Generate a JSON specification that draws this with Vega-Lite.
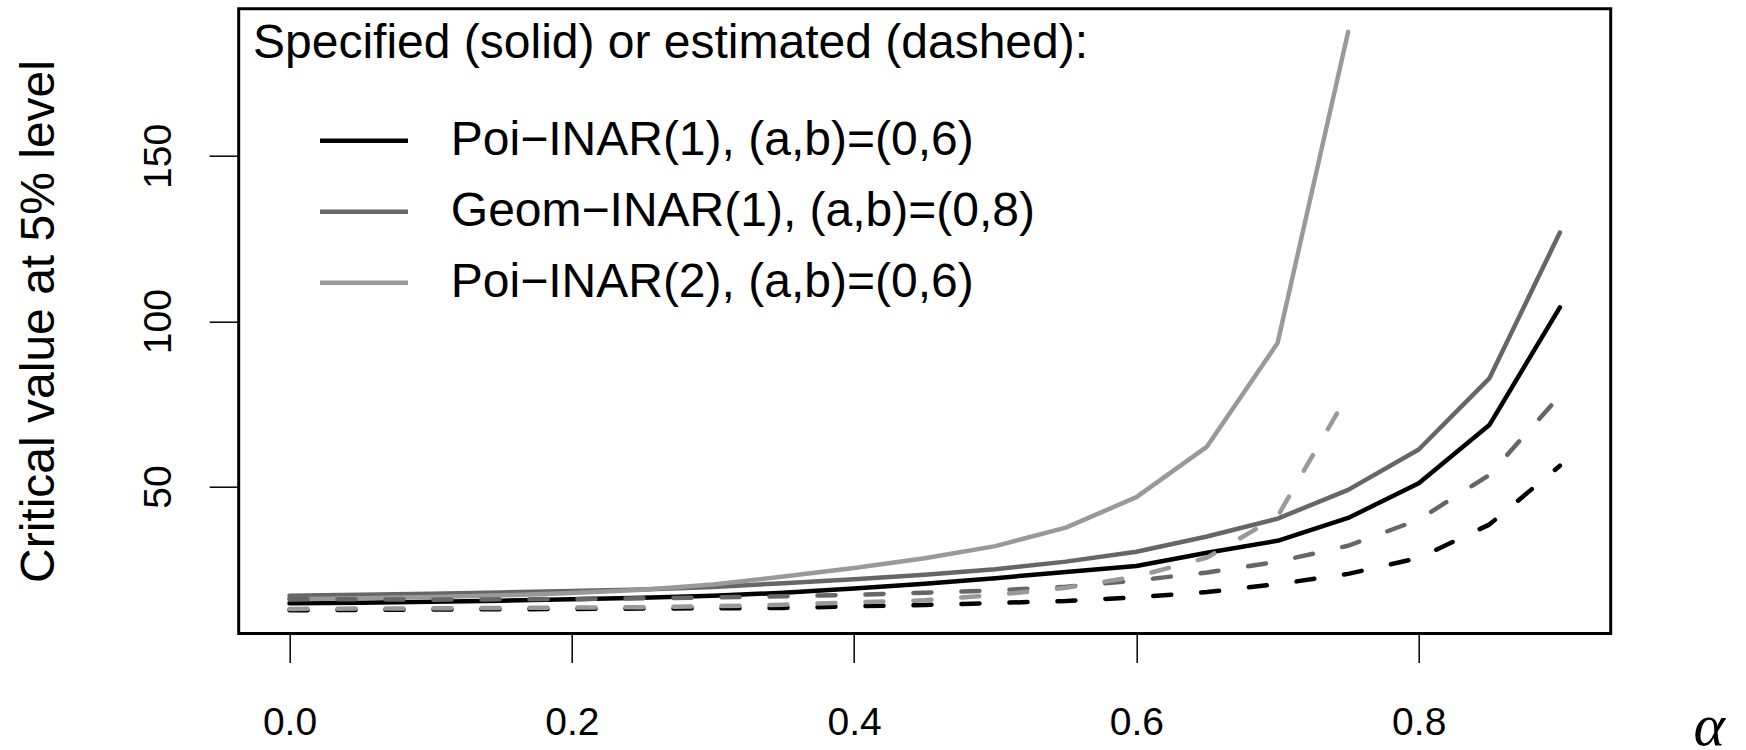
{
  "$schema": "https://vega.github.io/schema/vega-lite/v6.json",
  "width": 1372,
  "height": 624.7,
  "autosize": {"type": "none"},
  "padding": {"left": 238.7, "top": 8.7, "right": 135.3, "bottom": 116.6},
  "background": "white",
  "config": {
    "view": {"stroke": "black", "strokeWidth": 3},
    "font": "Liberation Sans"
  },
  "data": {
    "values": [
      {"model": "Poi−INAR(1), (a,b)=(0,6)", "type": "specified", "alpha": 0, "cv": 14.7},
      {"model": "Poi−INAR(1), (a,b)=(0,6)", "type": "specified", "alpha": 0.05, "cv": 14.9},
      {"model": "Poi−INAR(1), (a,b)=(0,6)", "type": "specified", "alpha": 0.1, "cv": 15.2},
      {"model": "Poi−INAR(1), (a,b)=(0,6)", "type": "specified", "alpha": 0.15, "cv": 15.5},
      {"model": "Poi−INAR(1), (a,b)=(0,6)", "type": "specified", "alpha": 0.2, "cv": 15.9},
      {"model": "Poi−INAR(1), (a,b)=(0,6)", "type": "specified", "alpha": 0.25, "cv": 16.4},
      {"model": "Poi−INAR(1), (a,b)=(0,6)", "type": "specified", "alpha": 0.3, "cv": 17.0},
      {"model": "Poi−INAR(1), (a,b)=(0,6)", "type": "specified", "alpha": 0.35, "cv": 17.9},
      {"model": "Poi−INAR(1), (a,b)=(0,6)", "type": "specified", "alpha": 0.4, "cv": 19.2},
      {"model": "Poi−INAR(1), (a,b)=(0,6)", "type": "specified", "alpha": 0.45, "cv": 20.6},
      {"model": "Poi−INAR(1), (a,b)=(0,6)", "type": "specified", "alpha": 0.5, "cv": 22.3},
      {"model": "Poi−INAR(1), (a,b)=(0,6)", "type": "specified", "alpha": 0.55, "cv": 24.2},
      {"model": "Poi−INAR(1), (a,b)=(0,6)", "type": "specified", "alpha": 0.6, "cv": 26.0},
      {"model": "Poi−INAR(1), (a,b)=(0,6)", "type": "specified", "alpha": 0.65, "cv": 30.0},
      {"model": "Poi−INAR(1), (a,b)=(0,6)", "type": "specified", "alpha": 0.7, "cv": 33.6},
      {"model": "Poi−INAR(1), (a,b)=(0,6)", "type": "specified", "alpha": 0.75, "cv": 40.5},
      {"model": "Poi−INAR(1), (a,b)=(0,6)", "type": "specified", "alpha": 0.8, "cv": 51.0},
      {"model": "Poi−INAR(1), (a,b)=(0,6)", "type": "specified", "alpha": 0.85, "cv": 68.6},
      {"model": "Poi−INAR(1), (a,b)=(0,6)", "type": "specified", "alpha": 0.9, "cv": 104.2},
      {"model": "Geom−INAR(1), (a,b)=(0,8)", "type": "specified", "alpha": 0, "cv": 17.0},
      {"model": "Geom−INAR(1), (a,b)=(0,8)", "type": "specified", "alpha": 0.05, "cv": 17.3},
      {"model": "Geom−INAR(1), (a,b)=(0,8)", "type": "specified", "alpha": 0.1, "cv": 17.6},
      {"model": "Geom−INAR(1), (a,b)=(0,8)", "type": "specified", "alpha": 0.15, "cv": 18.0},
      {"model": "Geom−INAR(1), (a,b)=(0,8)", "type": "specified", "alpha": 0.2, "cv": 18.4},
      {"model": "Geom−INAR(1), (a,b)=(0,8)", "type": "specified", "alpha": 0.25, "cv": 18.9},
      {"model": "Geom−INAR(1), (a,b)=(0,8)", "type": "specified", "alpha": 0.3, "cv": 19.6},
      {"model": "Geom−INAR(1), (a,b)=(0,8)", "type": "specified", "alpha": 0.35, "cv": 20.8},
      {"model": "Geom−INAR(1), (a,b)=(0,8)", "type": "specified", "alpha": 0.4, "cv": 22.0},
      {"model": "Geom−INAR(1), (a,b)=(0,8)", "type": "specified", "alpha": 0.45, "cv": 23.3},
      {"model": "Geom−INAR(1), (a,b)=(0,8)", "type": "specified", "alpha": 0.5, "cv": 25.0},
      {"model": "Geom−INAR(1), (a,b)=(0,8)", "type": "specified", "alpha": 0.55, "cv": 27.3},
      {"model": "Geom−INAR(1), (a,b)=(0,8)", "type": "specified", "alpha": 0.6, "cv": 30.3},
      {"model": "Geom−INAR(1), (a,b)=(0,8)", "type": "specified", "alpha": 0.65, "cv": 34.9},
      {"model": "Geom−INAR(1), (a,b)=(0,8)", "type": "specified", "alpha": 0.7, "cv": 40.3},
      {"model": "Geom−INAR(1), (a,b)=(0,8)", "type": "specified", "alpha": 0.75, "cv": 49.0},
      {"model": "Geom−INAR(1), (a,b)=(0,8)", "type": "specified", "alpha": 0.8, "cv": 61.2},
      {"model": "Geom−INAR(1), (a,b)=(0,8)", "type": "specified", "alpha": 0.85, "cv": 82.7},
      {"model": "Geom−INAR(1), (a,b)=(0,8)", "type": "specified", "alpha": 0.9, "cv": 126.8},
      {"model": "Poi−INAR(2), (a,b)=(0,6)", "type": "specified", "alpha": 0, "cv": 15.9},
      {"model": "Poi−INAR(2), (a,b)=(0,6)", "type": "specified", "alpha": 0.05, "cv": 16.2},
      {"model": "Poi−INAR(2), (a,b)=(0,6)", "type": "specified", "alpha": 0.1, "cv": 16.6},
      {"model": "Poi−INAR(2), (a,b)=(0,6)", "type": "specified", "alpha": 0.15, "cv": 17.1},
      {"model": "Poi−INAR(2), (a,b)=(0,6)", "type": "specified", "alpha": 0.2, "cv": 17.8},
      {"model": "Poi−INAR(2), (a,b)=(0,6)", "type": "specified", "alpha": 0.25, "cv": 18.8},
      {"model": "Poi−INAR(2), (a,b)=(0,6)", "type": "specified", "alpha": 0.3, "cv": 20.4},
      {"model": "Poi−INAR(2), (a,b)=(0,6)", "type": "specified", "alpha": 0.35, "cv": 22.8},
      {"model": "Poi−INAR(2), (a,b)=(0,6)", "type": "specified", "alpha": 0.4, "cv": 25.4},
      {"model": "Poi−INAR(2), (a,b)=(0,6)", "type": "specified", "alpha": 0.45, "cv": 28.3},
      {"model": "Poi−INAR(2), (a,b)=(0,6)", "type": "specified", "alpha": 0.5, "cv": 32.0},
      {"model": "Poi−INAR(2), (a,b)=(0,6)", "type": "specified", "alpha": 0.55, "cv": 37.6},
      {"model": "Poi−INAR(2), (a,b)=(0,6)", "type": "specified", "alpha": 0.6, "cv": 46.8},
      {"model": "Poi−INAR(2), (a,b)=(0,6)", "type": "specified", "alpha": 0.65, "cv": 62.1},
      {"model": "Poi−INAR(2), (a,b)=(0,6)", "type": "specified", "alpha": 0.7, "cv": 93.4},
      {"model": "Poi−INAR(2), (a,b)=(0,6)", "type": "specified", "alpha": 0.75, "cv": 187.5},
      {"model": "Poi−INAR(1), (a,b)=(0,6)", "type": "estimated", "alpha": 0, "cv": 12.6},
      {"model": "Poi−INAR(1), (a,b)=(0,6)", "type": "estimated", "alpha": 0.05, "cv": 12.7},
      {"model": "Poi−INAR(1), (a,b)=(0,6)", "type": "estimated", "alpha": 0.1, "cv": 12.8},
      {"model": "Poi−INAR(1), (a,b)=(0,6)", "type": "estimated", "alpha": 0.15, "cv": 12.9},
      {"model": "Poi−INAR(1), (a,b)=(0,6)", "type": "estimated", "alpha": 0.2, "cv": 13.0},
      {"model": "Poi−INAR(1), (a,b)=(0,6)", "type": "estimated", "alpha": 0.25, "cv": 13.1},
      {"model": "Poi−INAR(1), (a,b)=(0,6)", "type": "estimated", "alpha": 0.3, "cv": 13.2},
      {"model": "Poi−INAR(1), (a,b)=(0,6)", "type": "estimated", "alpha": 0.35, "cv": 13.3},
      {"model": "Poi−INAR(1), (a,b)=(0,6)", "type": "estimated", "alpha": 0.4, "cv": 13.8},
      {"model": "Poi−INAR(1), (a,b)=(0,6)", "type": "estimated", "alpha": 0.45, "cv": 14.2},
      {"model": "Poi−INAR(1), (a,b)=(0,6)", "type": "estimated", "alpha": 0.5, "cv": 14.8},
      {"model": "Poi−INAR(1), (a,b)=(0,6)", "type": "estimated", "alpha": 0.55, "cv": 15.4},
      {"model": "Poi−INAR(1), (a,b)=(0,6)", "type": "estimated", "alpha": 0.6, "cv": 16.5},
      {"model": "Poi−INAR(1), (a,b)=(0,6)", "type": "estimated", "alpha": 0.65, "cv": 18.1},
      {"model": "Poi−INAR(1), (a,b)=(0,6)", "type": "estimated", "alpha": 0.7, "cv": 20.5},
      {"model": "Poi−INAR(1), (a,b)=(0,6)", "type": "estimated", "alpha": 0.75, "cv": 23.6},
      {"model": "Poi−INAR(1), (a,b)=(0,6)", "type": "estimated", "alpha": 0.8, "cv": 28.4},
      {"model": "Poi−INAR(1), (a,b)=(0,6)", "type": "estimated", "alpha": 0.85, "cv": 38.5},
      {"model": "Poi−INAR(1), (a,b)=(0,6)", "type": "estimated", "alpha": 0.9, "cv": 56.3},
      {"model": "Geom−INAR(1), (a,b)=(0,8)", "type": "estimated", "alpha": 0, "cv": 16.0},
      {"model": "Geom−INAR(1), (a,b)=(0,8)", "type": "estimated", "alpha": 0.05, "cv": 15.9},
      {"model": "Geom−INAR(1), (a,b)=(0,8)", "type": "estimated", "alpha": 0.1, "cv": 15.8},
      {"model": "Geom−INAR(1), (a,b)=(0,8)", "type": "estimated", "alpha": 0.15, "cv": 15.9},
      {"model": "Geom−INAR(1), (a,b)=(0,8)", "type": "estimated", "alpha": 0.2, "cv": 16.0},
      {"model": "Geom−INAR(1), (a,b)=(0,8)", "type": "estimated", "alpha": 0.25, "cv": 16.2},
      {"model": "Geom−INAR(1), (a,b)=(0,8)", "type": "estimated", "alpha": 0.3, "cv": 16.5},
      {"model": "Geom−INAR(1), (a,b)=(0,8)", "type": "estimated", "alpha": 0.35, "cv": 16.8},
      {"model": "Geom−INAR(1), (a,b)=(0,8)", "type": "estimated", "alpha": 0.4, "cv": 17.3},
      {"model": "Geom−INAR(1), (a,b)=(0,8)", "type": "estimated", "alpha": 0.45, "cv": 17.9},
      {"model": "Geom−INAR(1), (a,b)=(0,8)", "type": "estimated", "alpha": 0.5, "cv": 18.6},
      {"model": "Geom−INAR(1), (a,b)=(0,8)", "type": "estimated", "alpha": 0.55, "cv": 19.7},
      {"model": "Geom−INAR(1), (a,b)=(0,8)", "type": "estimated", "alpha": 0.6, "cv": 21.6},
      {"model": "Geom−INAR(1), (a,b)=(0,8)", "type": "estimated", "alpha": 0.65, "cv": 24.0},
      {"model": "Geom−INAR(1), (a,b)=(0,8)", "type": "estimated", "alpha": 0.7, "cv": 27.3},
      {"model": "Geom−INAR(1), (a,b)=(0,8)", "type": "estimated", "alpha": 0.75, "cv": 32.1},
      {"model": "Geom−INAR(1), (a,b)=(0,8)", "type": "estimated", "alpha": 0.8, "cv": 40.0},
      {"model": "Geom−INAR(1), (a,b)=(0,8)", "type": "estimated", "alpha": 0.85, "cv": 53.5},
      {"model": "Geom−INAR(1), (a,b)=(0,8)", "type": "estimated", "alpha": 0.9, "cv": 77.5},
      {"model": "Poi−INAR(2), (a,b)=(0,6)", "type": "estimated", "alpha": 0, "cv": 13.0},
      {"model": "Poi−INAR(2), (a,b)=(0,6)", "type": "estimated", "alpha": 0.05, "cv": 13.1},
      {"model": "Poi−INAR(2), (a,b)=(0,6)", "type": "estimated", "alpha": 0.1, "cv": 13.2},
      {"model": "Poi−INAR(2), (a,b)=(0,6)", "type": "estimated", "alpha": 0.15, "cv": 13.3},
      {"model": "Poi−INAR(2), (a,b)=(0,6)", "type": "estimated", "alpha": 0.2, "cv": 13.4},
      {"model": "Poi−INAR(2), (a,b)=(0,6)", "type": "estimated", "alpha": 0.25, "cv": 13.5},
      {"model": "Poi−INAR(2), (a,b)=(0,6)", "type": "estimated", "alpha": 0.3, "cv": 13.8},
      {"model": "Poi−INAR(2), (a,b)=(0,6)", "type": "estimated", "alpha": 0.35, "cv": 14.3},
      {"model": "Poi−INAR(2), (a,b)=(0,6)", "type": "estimated", "alpha": 0.4, "cv": 15.0},
      {"model": "Poi−INAR(2), (a,b)=(0,6)", "type": "estimated", "alpha": 0.45, "cv": 15.6},
      {"model": "Poi−INAR(2), (a,b)=(0,6)", "type": "estimated", "alpha": 0.5, "cv": 17.2},
      {"model": "Poi−INAR(2), (a,b)=(0,6)", "type": "estimated", "alpha": 0.55, "cv": 19.4},
      {"model": "Poi−INAR(2), (a,b)=(0,6)", "type": "estimated", "alpha": 0.6, "cv": 22.8},
      {"model": "Poi−INAR(2), (a,b)=(0,6)", "type": "estimated", "alpha": 0.65, "cv": 28.5},
      {"model": "Poi−INAR(2), (a,b)=(0,6)", "type": "estimated", "alpha": 0.7, "cv": 41.0},
      {"model": "Poi−INAR(2), (a,b)=(0,6)", "type": "estimated", "alpha": 0.75, "cv": 78.0}
    ]
  },
  "encoding": {
    "x": {
      "field": "alpha",
      "type": "quantitative",
      "scale": {"domain": [-0.036, 0.936], "nice": false, "zero": false},
      "axis": {
        "title": "α",
        "values": [0, 0.2, 0.4, 0.6, 0.8],
        "format": ".1f",
        "domain": false,
        "grid": false,
        "tickSize": 29,
        "tickWidth": 1.5,
        "tickColor": "black",
        "labelFont": "Liberation Sans",
        "labelFontSize": 39,
        "labelColor": "black",
        "labelBaseline": "alphabetic",
        "labelPadding": 72,
        "labelFlush": false,
        "labelOverlap": false,
        "titleFont": "Liberation Serif",
        "titleFontStyle": "italic",
        "titleFontSize": 60,
        "titleFontWeight": "normal",
        "titleColor": "black",
        "titleX": 1470,
        "titleY": 111,
        "titleAlign": "center",
        "titleBaseline": "alphabetic"
      }
    },
    "y": {
      "field": "cv",
      "type": "quantitative",
      "scale": {"domain": [5.6, 194.5], "nice": false, "zero": false},
      "axis": {
        "title": "Critical value at 5% level",
        "values": [50, 100, 150],
        "domain": false,
        "grid": false,
        "tickSize": 29.5,
        "tickWidth": 1.5,
        "tickColor": "black",
        "labelFont": "Liberation Sans",
        "labelFontSize": 39,
        "labelColor": "black",
        "labelAngle": -90,
        "labelAlign": "center",
        "labelBaseline": "alphabetic",
        "labelPadding": 38.7,
        "labelFlush": false,
        "labelOverlap": false,
        "titleFont": "Liberation Sans",
        "titleFontSize": 48,
        "titleFontWeight": "normal",
        "titleColor": "black",
        "titleAngle": 270,
        "titleX": -185.7,
        "titleY": 312.3,
        "titleAlign": "center",
        "titleBaseline": "alphabetic"
      }
    }
  },
  "layer": [
    {
      "transform": [{"filter": "datum.type === 'specified'"}],
      "mark": {"type": "line", "strokeWidth": 4.5, "strokeCap": "round", "strokeJoin": "round"},
      "encoding": {
        "color": {
          "field": "model",
          "type": "nominal",
          "scale": {
            "domain": ["Poi−INAR(1), (a,b)=(0,6)", "Geom−INAR(1), (a,b)=(0,8)", "Poi−INAR(2), (a,b)=(0,6)"],
            "range": ["#000000", "#666666", "#999999"]
          },
          "legend": {
            "title": "Specified (solid) or estimated (dashed):",
            "orient": "none",
            "direction": "vertical",
            "legendX": 14.3,
            "legendY": 11,
            "padding": 0,
            "titleFont": "Liberation Sans",
            "titleFontSize": 48,
            "titleFontWeight": "normal",
            "titleColor": "black",
            "titleLimit": 2000,
            "titlePadding": 26.5,
            "labelFont": "Liberation Sans",
            "labelFontSize": 48,
            "labelColor": "black",
            "labelLimit": 2000,
            "labelOffset": 40.3,
            "symbolType": "stroke",
            "symbolSize": 7744,
            "symbolStrokeWidth": 4.5,
            "symbolOffset": 64.5,
            "rowPadding": -3
          }
        }
      }
    },
    {
      "transform": [{"filter": "datum.type === 'estimated'"}],
      "mark": {"type": "line", "strokeWidth": 4.5, "strokeCap": "round", "strokeJoin": "round", "strokeDash": [18, 30]},
      "encoding": {
        "stroke": {
          "field": "model",
          "type": "nominal",
          "scale": {
            "domain": ["Poi−INAR(1), (a,b)=(0,6)", "Geom−INAR(1), (a,b)=(0,8)", "Poi−INAR(2), (a,b)=(0,6)"],
            "range": ["#000000", "#666666", "#999999"]
          },
          "legend": null
        }
      }
    }
  ]
}
